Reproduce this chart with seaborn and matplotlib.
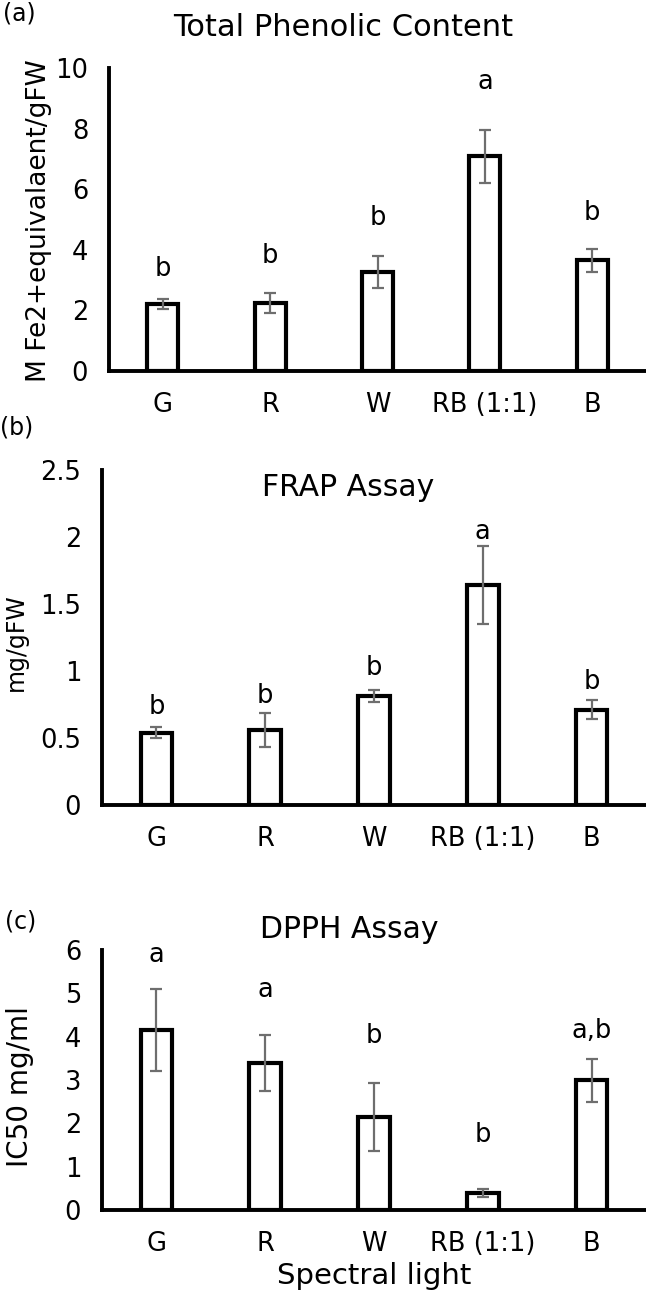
import matplotlib
matplotlib.use("Agg")
import matplotlib.pyplot as plt
import seaborn as sns
import numpy as np

sns.set_style("white")
plt.rcParams['font.family'] = ['DejaVu Sans']
plt.rcParams['text.color'] = 'black'
plt.rcParams['axes.labelcolor'] = 'black'
plt.rcParams['xtick.color'] = 'black'
plt.rcParams['ytick.color'] = 'black'

categories = ["G", "R", "W", "RB (1:1)", "B"]

# (a) Total phenolic content
tpc_values = [2.20, 2.25, 3.27, 7.08, 3.65]
tpc_errors = [0.17, 0.32, 0.52, 0.89, 0.37]
tpc_letters = ["b", "b", "b", "a", "b"]
tpc_letter_y = [3.35, 3.79, 5.05, 9.53, 5.22]

# (b) FRAP assay
frap_values = [0.54, 0.56, 0.81, 1.64, 0.71]
frap_errors = [0.04, 0.13, 0.045, 0.29, 0.07]
frap_letters = ["b", "b", "b", "a", "b"]
frap_letter_y = [0.73, 0.81, 1.02, 2.04, 0.92]

# (c) DPPH assay
dpph_values = [4.15, 3.39, 2.14, 0.39, 2.99]
dpph_errors = [0.94, 0.64, 0.78, 0.10, 0.50]
dpph_letters = ["a", "a", "b", "b", "a,b"]
dpph_letter_y = [5.88, 5.07, 4.01, 1.72, 4.12]

W, H = 646, 1295
fig = plt.figure(figsize=(W / 100, H / 100), dpi=100)

def px_axes(left, right, top, bottom):
    return fig.add_axes([left / W, 1 - bottom / H, (right - left) / W, (bottom - top) / H])

panels = [
    dict(ax=px_axes(109, 646, 68, 371), vals=tpc_values, errs=tpc_errors, letters=tpc_letters,
         ly=tpc_letter_y, ylim=10, yticks=[0, 2, 4, 6, 8, 10], yticklabels=["0", "2", "4", "6", "8", "10"],
         ylabel="M Fe2+equivalaent/gFW", ylabel_fs=19, ylabel_xy=(-0.130, 0.495)),
    dict(ax=px_axes(102, 646, 470, 805), vals=frap_values, errs=frap_errors, letters=frap_letters,
         ly=frap_letter_y, ylim=2.5, yticks=[0, 0.5, 1, 1.5, 2, 2.5],
         yticklabels=["0", "0.5", "1", "1.5", "2", "2.5"],
         ylabel="mg/gFW", ylabel_fs=17, ylabel_xy=(-0.158, 0.485)),
    dict(ax=px_axes(102, 646, 950, 1210), vals=dpph_values, errs=dpph_errors, letters=dpph_letters,
         ly=dpph_letter_y, ylim=6, yticks=[0, 1, 2, 3, 4, 5, 6],
         yticklabels=["0", "1", "2", "3", "4", "5", "6"],
         ylabel="IC50 mg/ml", ylabel_fs=20, ylabel_xy=(-0.151, 0.473)),
]

for p in panels:
    ax = p["ax"]
    sns.barplot(x=categories, y=p["vals"], ax=ax, color="white", edgecolor="black",
                linewidth=3.0, width=0.29, errorbar=None, saturation=1)
    ax.errorbar(x=np.arange(len(categories)), y=p["vals"], yerr=p["errs"], fmt="none",
                ecolor="#6e6e6e", elinewidth=1.6, capsize=4.5, capthick=1.6, zorder=5)
    for i, (lt, yy) in enumerate(zip(p["letters"], p["ly"])):
        ax.text(i, yy, lt, ha="center", va="center", fontsize=18.5, color="black")
    ax.set_xlim(-0.5, 4.5)
    ax.set_ylim(0, p["ylim"])
    ax.set_yticks(p["yticks"])
    ax.set_yticklabels(p["yticklabels"])
    ax.tick_params(axis="both", length=0, labelsize=18.5, colors="black")
    ax.tick_params(axis="y", pad=15)
    ax.tick_params(axis="x", pad=15)
    for s in ["top", "right"]:
        ax.spines[s].set_visible(False)
    for s in ["left", "bottom"]:
        ax.spines[s].set_color("black")
        ax.spines[s].set_linewidth(2.8)
    ax.set_ylabel(p["ylabel"], fontsize=p["ylabel_fs"], va="center", ha="center", color="black")
    ax.yaxis.set_label_coords(*p["ylabel_xy"])
    ax.set_xlabel("")
    ax.patch.set_alpha(0)

panels[2]["ax"].set_xlabel("Spectral light", fontsize=21, labelpad=4, color="black")

fig.text(343 / W, 1 - 27 / H, "Total Phenolic Content", ha="center", va="center", fontsize=22)
fig.text(348 / W, 1 - 487 / H, "FRAP Assay", ha="center", va="center", fontsize=21.5)
fig.text(349 / W, 1 - 930 / H, "DPPH Assay", ha="center", va="center", fontsize=21.5)
fig.text(3 / W, 1 - 13 / H, "(a)", ha="left", va="center", fontsize=17)
fig.text(0 / W, 1 - 427 / H, "(b)", ha="left", va="center", fontsize=17)
fig.text(5 / W, 1 - 922 / H, "(c)", ha="left", va="center", fontsize=17)

fig.savefig("out.png", dpi=100)
